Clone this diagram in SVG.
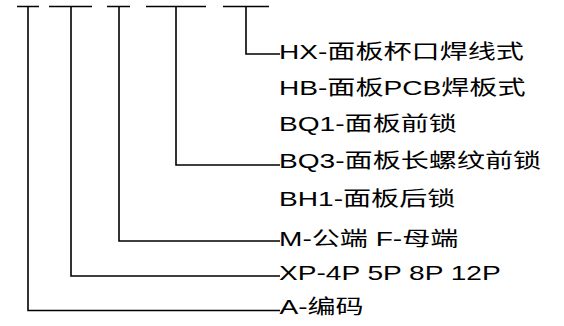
<svg xmlns="http://www.w3.org/2000/svg" width="564" height="326" viewBox="0 0 564 326">
<style>
.ln{fill:none;stroke:#000;stroke-width:1.6;stroke-linejoin:miter}
.t{font-family:"Liberation Sans","Noto Sans CJK SC",sans-serif;font-size:20px;fill:#000}
</style>
<rect width="564" height="326" fill="#fff"/>
<g id="connectors">
<path class="ln" d="M17 6.5H39M28 6.5V310.5H280"/>
<path class="ln" d="M49 6.5H92M71 6.5V276H280"/>
<path class="ln" d="M107 6.5H130M119 6.5V241H280"/>
<path class="ln" d="M146 6.5H206M176 6.5V165H280"/>
<path class="ln" d="M223 6.5H269M246 6.5V54H280"/>
</g>
<g transform="translate(279,0) scale(1.405,1)">
<g id="n-hx"><text class="t" x="0" y="59">HX-面板杯口焊线式</text></g>
<g id="n-hb"><text class="t" x="0" y="95">HB-面板PCB焊板式</text></g>
<g id="n-bq1"><text class="t" x="0" y="131.5">BQ1-面板前锁</text></g>
<g id="n-bq3"><text class="t" x="0" y="168">BQ3-面板长螺纹前锁</text></g>
<g id="n-bh1"><text class="t" x="0" y="206">BH1-面板后锁</text></g>
<g id="n-mf"><text class="t" x="0" y="246">M-公端 F-母端</text></g>
<g id="n-xp"><text class="t" x="0" y="280">XP-4P 5P 8P 12P</text></g>
<g id="n-a"><text class="t" x="0.3" y="314">A-编码</text></g>
</g>
</svg>
